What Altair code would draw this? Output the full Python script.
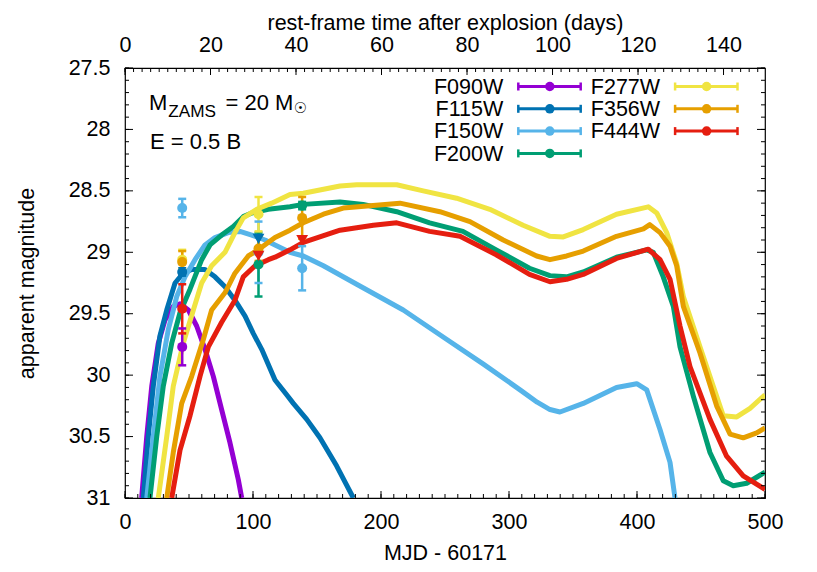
import altair as alt
import pandas as pd

# ---------------- data ----------------
FILTERS = ["F090W", "F115W", "F150W", "F200W", "F277W", "F356W", "F444W"]
COLORS = ["#9400d3", "#0072b2", "#56b4e9", "#009e73", "#f0e442", "#e69f00", "#e51e10"]

# model light curves: t = MJD - 60171, m = apparent magnitude
F090W_T = [13.0, 17.0, 20.9, 26.0, 31.3, 37.7, 43.0, 49.5, 56.0, 62.5, 69.0, 75.5, 82.0, 88.5, 91.2]
F090W_M = [31.0, 30.5, 30.09, 29.74, 29.55, 29.44, 29.42, 29.47, 29.60, 29.79, 30.01, 30.28, 30.55, 30.85, 31.0]

F115W_T = [14.3, 18.2, 22.1, 27.3, 32.6, 39.1, 45.5, 52.1, 62.5, 70.3, 78.1, 85.9, 93.8, 100.2, 106.8,
           117.2, 126.3, 131.5, 142.0, 152.3, 165.4, 178.4]
F115W_M = [31.0, 30.5, 30.09, 29.68, 29.47, 29.25, 29.17, 29.14, 29.14, 29.20, 29.28, 29.39, 29.52, 29.66, 29.79,
           30.04, 30.16, 30.23, 30.36, 30.51, 30.74, 31.0]

F150W_T = [17.0, 22.1, 27.3, 33.8, 40.4, 46.9, 54.7, 62.5, 70.3, 80.7, 89.8, 99.0, 109.4, 117.2, 128.9,
           139.3, 155.0, 181.0, 217.4, 250.0, 280.0, 310.0, 322.0, 332.0, 339.8, 358.0, 384.0, 399.8,
           407.6, 417.9, 425.8, 429.7]
F150W_M = [31.0, 30.5, 30.01, 29.63, 29.36, 29.20, 29.06, 28.94, 28.88, 28.84, 28.83, 28.86, 28.90, 28.94, 29.00,
           29.03, 29.11, 29.26, 29.47, 29.70, 29.91, 30.13, 30.22, 30.28, 30.30, 30.23, 30.10, 30.07,
           30.12, 30.44, 30.71, 31.0]

F200W_T = [19.5, 24.8, 29.9, 36.5, 43.0, 50.8, 59.9, 66.4, 75.5, 84.6, 92.4, 99.0, 112.0, 128.9, 139.3,
           168.0, 186.0, 212.3, 238.0, 264.0, 290.0, 316.0, 332.0, 345.0, 358.0, 384.0, 407.6, 412.7,
           420.5, 428.4, 433.6, 444.0, 457.0, 467.4, 475.2, 485.7, 500.0]
F200W_M = [31.0, 30.5, 30.09, 29.74, 29.49, 29.30, 29.06, 28.94, 28.86, 28.79, 28.71, 28.68, 28.65, 28.63, 28.61,
           28.59, 28.61, 28.67, 28.76, 28.83, 28.98, 29.13, 29.19, 29.20, 29.16, 29.04, 28.98, 29.00,
           29.20, 29.44, 29.77, 30.17, 30.63, 30.86, 30.90, 30.88, 30.79]

F277W_T = [26.0, 32.6, 37.7, 45.5, 53.4, 59.9, 67.7, 78.1, 85.9, 92.4, 102.9, 114.6, 128.9, 139.3, 168.0,
           181.0, 212.3, 233.0, 259.0, 285.0, 311.0, 332.0, 342.4, 358.0, 384.0, 408.8, 415.4, 423.2,
           431.0, 436.2, 449.2, 459.6, 467.4, 477.9, 488.3, 500.0]
F277W_M = [31.0, 30.5, 30.09, 29.74, 29.47, 29.25, 29.11, 29.0, 28.84, 28.72, 28.65, 28.60, 28.53, 28.52, 28.46,
           28.45, 28.45, 28.50, 28.56, 28.65, 28.78, 28.87, 28.875, 28.815, 28.69, 28.63, 28.68, 28.84,
           29.09, 29.36, 29.77, 30.09, 30.33, 30.34, 30.27, 30.16]

F356W_T = [32.6, 37.7, 44.3, 52.1, 61.2, 67.7, 78.1, 85.9, 96.3, 104.1, 117.2, 128.9, 139.3, 155.0, 170.5,
           214.8, 246.0, 269.5, 295.5, 321.6, 332.0, 345.0, 358.0, 384.0, 405.0, 410.0, 418.0, 425.8,
           431.0, 436.2, 449.2, 462.2, 472.7, 483.0, 493.5, 500.0]
F356W_M = [31.0, 30.63, 30.23, 30.01, 29.71, 29.47, 29.33, 29.17, 29.03, 28.98, 28.88, 28.82, 28.76, 28.69, 28.64,
           28.60, 28.67, 28.75, 28.90, 29.03, 29.06, 29.03, 28.99, 28.87, 28.81, 28.775, 28.84, 28.95,
           29.11, 29.44, 29.82, 30.25, 30.48, 30.51, 30.47, 30.43]

F444W_T = [36.5, 43.0, 50.8, 58.6, 65.1, 75.5, 85.9, 92.4, 101.6, 112.0, 117.2, 128.9, 139.3, 168.0, 194.0,
           212.3, 238.0, 261.7, 290.0, 316.0, 332.0, 345.0, 358.0, 384.0, 408.8, 418.0, 425.8, 433.6,
           441.4, 457.0, 470.0, 483.0, 500.0]
F444W_M = [31.0, 30.61, 30.33, 30.01, 29.77, 29.57, 29.39, 29.20, 29.11, 29.06, 29.04, 28.98, 28.92, 28.82, 28.78,
           28.76, 28.83, 28.87, 29.02, 29.18, 29.24, 29.22, 29.18, 29.05, 28.975, 29.06, 29.22, 29.60,
           29.93, 30.36, 30.66, 30.82, 30.93]

# observed photometry (lim = upper limit, drawn as triangle)
OBS_BAND = ["F090W", "F115W", "F150W", "F277W", "F356W", "F444W",
            "F150W", "F200W", "F277W", "F356W", "F115W", "F444W",
            "F200W", "F150W", "F356W", "F444W"]
OBS_T = [44.7, 44.7, 44.7, 44.7, 44.7, 44.7,
         104.3, 104.3, 104.3, 104.3, 104.3, 104.3,
         138.4, 138.4, 138.4, 138.4]
OBS_M = [29.77, 29.16, 28.64, 29.06, 29.08, 29.46,
         29.00, 29.10, 28.69, 28.97, 28.89, 29.03,
         28.62, 29.13, 28.72, 28.90]
OBS_E = [0.15, 0.03, 0.075, 0.08, 0.09, 0.20,
         0.25, 0.26, 0.14, 0.10, 0.0, 0.0,
         0.03, 0.18, 0.17, 0.0]
OBS_LIM = [False, False, False, False, False, False,
           False, False, False, False, True, True,
           False, False, False, True]

Z1 = 3.34  # observed days per rest-frame day (1+z)

X_MAJOR = list(range(0, 501, 100))
X_MINOR = list(range(0, 501, 10))
T_MAJOR = list(range(0, 141, 20))
T_MINOR = list(range(0, 150, 2))
Y_MAJOR = [27.5, 28.0, 28.5, 29.0, 29.5, 30.0, 30.5, 31.0]
Y_MINOR = [round(27.5 + 0.1 * i, 1) for i in range(36)]

# ---------------- layout ----------------
W, H = 640, 430
FONT = "Liberation Sans"
FS = 21.5

xs = alt.Scale(domain=[0, 500], nice=False, zero=False)
ts = alt.Scale(domain=[0, 500 / Z1], nice=False, zero=False)
ys = alt.Scale(domain=[27.5, 31], reverse=True, nice=False, zero=False)
cs = alt.Scale(domain=FILTERS, range=COLORS)
COLOR = alt.Color("band:N", scale=cs, legend=None)

CURVES = {
    "F090W": (F090W_T, F090W_M), "F115W": (F115W_T, F115W_M), "F150W": (F150W_T, F150W_M),
    "F200W": (F200W_T, F200W_M), "F277W": (F277W_T, F277W_M), "F356W": (F356W_T, F356W_M),
    "F444W": (F444W_T, F444W_M),
}
rows = []
for b, (tt, mm) in CURVES.items():
    for a, c in zip(tt, mm):
        rows.append({"band": b, "t": a, "m": c})
curves = pd.DataFrame(rows)

obs = pd.DataFrame({"band": OBS_BAND, "t": OBS_T, "m": OBS_M, "e": OBS_E, "lim": OBS_LIM})
obs["lo"] = obs["m"] - obs["e"]
obs["hi"] = obs["m"] + obs["e"]
det = obs[~obs["lim"]].copy()
bars = det[det["e"] > 0].copy()
lim = obs[obs["lim"]].copy()

layers = []

# model curves, in plotting order
for b in FILTERS:
    layers.append(
        alt.Chart(curves).transform_filter(alt.datum.band == b)
        .mark_line(strokeWidth=5, clip=True, strokeJoin="round")
        .encode(x=alt.X("t:Q", scale=xs, axis=None),
                y=alt.Y("m:Q", scale=ys, axis=None),
                color=COLOR, order="t:Q")
    )

# error bars and points
layers.append(
    alt.Chart(bars).mark_rule(strokeWidth=2.5).encode(
        x=alt.X("t:Q", scale=xs, axis=None),
        y=alt.Y("lo:Q", scale=ys, axis=None), y2="hi:Q", color=COLOR)
)
for fld in ["lo", "hi"]:
    layers.append(
        alt.Chart(bars).mark_point(shape="M-1,0L1,0", size=64, strokeWidth=2.5, filled=False, opacity=1)
        .encode(x=alt.X("t:Q", scale=xs, axis=None),
                y=alt.Y(f"{fld}:Q", scale=ys, axis=None), color=COLOR)
    )
layers.append(
    alt.Chart(det).mark_point(shape="circle", filled=True, size=100, opacity=1).encode(
        x=alt.X("t:Q", scale=xs, axis=None), y=alt.Y("m:Q", scale=ys, axis=None), color=COLOR)
)
layers.append(
    alt.Chart(lim).mark_point(shape="triangle-down", filled=True, size=140, opacity=1).encode(
        x=alt.X("t:Q", scale=xs, axis=None), y=alt.Y("m:Q", scale=ys, axis=None), color=COLOR)
)

# ---------------- frame ticks (inward, gnuplot style) + axes ----------------
xmaj = pd.DataFrame({"v": X_MAJOR})
xmin = pd.DataFrame({"v": X_MINOR})
tmaj = pd.DataFrame({"v": T_MAJOR})
tmin = pd.DataFrame({"v": T_MINOR})
ymaj = pd.DataFrame({"v": Y_MAJOR})
ymin = pd.DataFrame({"v": Y_MINOR})

common = dict(ticks=False, tickSize=0, domain=False, grid=False, labelFontSize=FS, labelFlush=False,
              labelOverlap=False, labelColor="black", titleFontSize=FS, titleFontWeight="normal",
              titleColor="black", titleAlign="center", titleBaseline="middle")
bottom_axis = alt.Axis(orient="bottom", values=X_MAJOR, format="d", labelPadding=13.7,
                       title="MJD - 60171", titleX=W / 2, titleY=55, **common)
top_axis = alt.Axis(orient="top", values=T_MAJOR, format="d", labelPadding=11.8,
                    title="rest-frame time after explosion (days)", titleX=W / 2, titleY=-45, **common)
left_axis = alt.Axis(orient="left", values=Y_MAJOR, format="~g", labelPadding=15,
                     title="apparent magnitude", titleAngle=270, titleX=-98, titleY=H / 2, **common)

layers.append(alt.Chart(xmaj).mark_rule(color="black", strokeWidth=1).encode(
    x=alt.X("v:Q", scale=xs, axis=bottom_axis), y=alt.value(H), y2=alt.value(H - 7)))
layers.append(alt.Chart(xmin).mark_rule(color="black", strokeWidth=1).encode(
    x=alt.X("v:Q", scale=xs, axis=None), y=alt.value(H), y2=alt.value(H - 4)))
layers.append(alt.Chart(tmaj).mark_rule(color="black", strokeWidth=1).encode(
    x=alt.X("v:Q", scale=ts, axis=top_axis), y=alt.value(0), y2=alt.value(7)))
layers.append(alt.Chart(tmin).mark_rule(color="black", strokeWidth=1).encode(
    x=alt.X("v:Q", scale=ts, axis=None), y=alt.value(0), y2=alt.value(4)))
layers.append(alt.Chart(ymaj).mark_rule(color="black", strokeWidth=1).encode(
    y=alt.Y("v:Q", scale=ys, axis=left_axis), x=alt.value(0), x2=alt.value(8)))
layers.append(alt.Chart(ymin).mark_rule(color="black", strokeWidth=1).encode(
    y=alt.Y("v:Q", scale=ys, axis=None), x=alt.value(0), x2=alt.value(4)))
layers.append(alt.Chart(ymaj).mark_rule(color="black", strokeWidth=1).encode(
    y=alt.Y("v:Q", scale=ys, axis=None), x=alt.value(W), x2=alt.value(W - 8)))
layers.append(alt.Chart(ymin).mark_rule(color="black", strokeWidth=1).encode(
    y=alt.Y("v:Q", scale=ys, axis=None), x=alt.value(W), x2=alt.value(W - 4)))

# ---------------- legend (two columns, labels left of samples) ----------------
leg = pd.DataFrame({"band": FILTERS})
idx = list(range(len(FILTERS)))
leg["col"] = [i // 4 for i in idx]
leg["row"] = [i % 4 for i in idx]
COL_DX = 156.8
ROW_DY = 22.3
leg["tx"] = 378.3 + leg["col"] * COL_DX
leg["x1"] = 393.3 + leg["col"] * COL_DX
leg["x2"] = 455.7 + leg["col"] * COL_DX
leg["mx"] = 424.8 + leg["col"] * COL_DX
leg["ly"] = 18.5 + leg["row"] * ROW_DY
leg["ty"] = leg["ly"] + 1.3

layers.append(alt.Chart(leg).mark_text(align="right", baseline="middle", fontSize=FS, color="black").encode(
    x=alt.X("tx:Q", scale=None), y=alt.Y("ty:Q", scale=None), text="band:N"))
layers.append(alt.Chart(leg).mark_rule(strokeWidth=3).encode(
    x=alt.X("x1:Q", scale=None), x2="x2:Q", y=alt.Y("ly:Q", scale=None), color=COLOR))
for fld in ["x1", "x2"]:
    layers.append(alt.Chart(leg).mark_point(shape="M0,-1L0,1", size=64, strokeWidth=2.5, filled=False,
                                            opacity=1).encode(
        x=alt.X(f"{fld}:Q", scale=None), y=alt.Y("ly:Q", scale=None), color=COLOR))
layers.append(alt.Chart(leg).mark_point(shape="circle", filled=True, size=90, opacity=1).encode(
    x=alt.X("mx:Q", scale=None), y=alt.Y("ly:Q", scale=None), color=COLOR))

# ---------------- annotation ----------------
one = pd.DataFrame({"k": [0]})


def note(txt, x, y, size, baseline="alphabetic", align="left", font=FONT):
    return alt.Chart(one).mark_text(align=align, baseline=baseline, fontSize=size, color="black",
                                    font=font).encode(
        x=alt.value(x), y=alt.value(y), text=alt.value(txt))


layers.append(note("M", 24.1, 42, 22))
layers.append(note("ZAMS", 43.2, 49, 17.2))
layers.append(note("= 20 M", 100.5, 42, 22))
layers.append(note("\u2609", 175.5, 39.5, 15, baseline="middle", align="center", font="DejaVu Sans"))
layers.append(note("E = 0.5 B", 25.0, 81, 22))

chart = (
    alt.layer(*layers)
    .resolve_scale(x="independent", y="independent")
    .properties(width=W, height=H, autosize=alt.AutoSizeParams(type="none"),
                padding={"left": 117, "top": 60, "right": 44, "bottom": 66})
    .configure(font=FONT)
    .configure_view(stroke="black", strokeWidth=1.2)
)

chart.save("out.html", embed_options={"renderer": "svg", "actions": False})
